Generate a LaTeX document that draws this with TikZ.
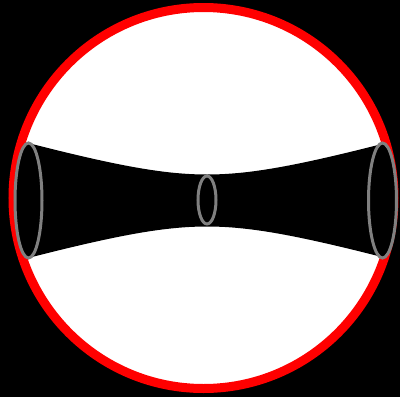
\documentclass[tikz,border=0pt]{standalone}
\begin{document}
\begin{tikzpicture}[x=1pt,y=-1pt,
  rim/.style={draw=red,line width=9pt,fill=white},
  throat/.style={fill=black},
  ring/.style={draw=gray,line width=3pt}]
\fill[black] (0,0) rectangle (400,397);
\useasboundingbox (0,0) rectangle (400,397);
\draw[rim] (203.5,198) circle[radius=190.5];
\fill[throat] plot[domain=28:382,samples=80] (\x,{200.5-sqrt(676+0.0821*(\x-207)*(\x-207))})
  -- plot[domain=382:28,samples=80] (\x,{200.5+sqrt(676+0.0821*(\x-207)*(\x-207))}) -- cycle;
\fill[throat] (28.5,200.5) ellipse[x radius=13.5,y radius=57.5];
\fill[throat] (382.5,200.5) ellipse[x radius=14,y radius=57.5];
\draw[ring] (28.5,200.5) ellipse[x radius=13.5,y radius=57.5];
\draw[ring] (382.5,200.5) ellipse[x radius=14,y radius=57.5];
\draw[ring] (207,200) ellipse[x radius=9,y radius=24];
\end{tikzpicture}
\end{document}
